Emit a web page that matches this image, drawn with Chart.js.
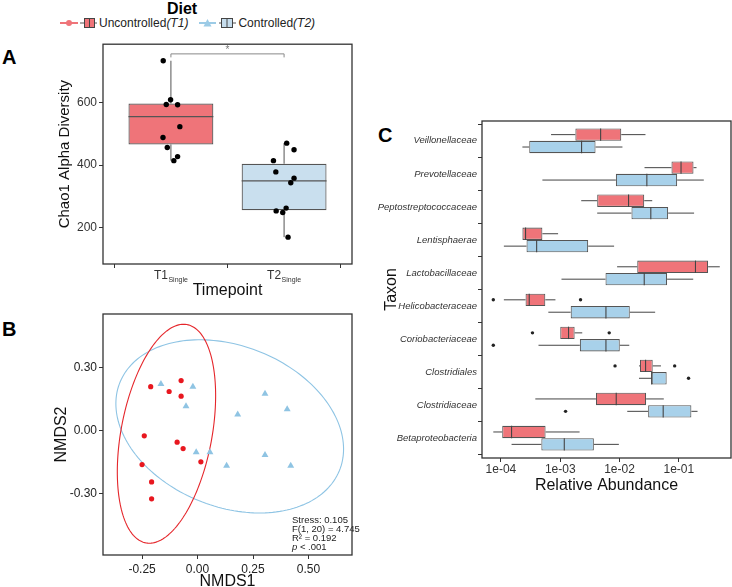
<!DOCTYPE html>
<html>
<head>
<meta charset="utf-8">
<script src="https://cdn.jsdelivr.net/npm/chart.js@4.4.1/dist/chart.umd.min.js"></script>
<style>
  body { margin: 0; background: #fff; font-family: "Liberation Sans", Arial, sans-serif; }
  #wrap { position: relative; width: 732px; height: 587px; overflow: hidden; background: #fff; }
  canvas { position: absolute; }
  .tag { position: absolute; font-size: 20px; font-weight: bold; line-height: 1; color: #000; }
  #dietTitle { position: absolute; left: 142px; width: 80px; top: 0; text-align: center; font-size: 16px; font-weight: bold; line-height: 17px; }
  #legend { position: absolute; left: 58px; top: 16px; height: 14px; display: flex; align-items: center; font-size: 12px; color: #222; white-space: nowrap; }
  #legend svg { display: block; }
</style>
</head>
<body>
<div id="wrap">
  <div id="dietTitle">Diet</div>
  <div id="legend">
    <svg width="40" height="14">
      <line x1="2" y1="7" x2="20" y2="7" stroke="#EF7479" stroke-width="2"/>
      <circle cx="11" cy="7" r="3" fill="#EF7479"/>
      <line x1="22" y1="7" x2="39" y2="7" stroke="#555" stroke-width="1"/>
      <rect x="26.5" y="2.5" width="10" height="9" fill="#EF7479" stroke="#444"/>
      <line x1="31.5" y1="2.5" x2="31.5" y2="11.5" stroke="#444"/>
    </svg>
    <span style="margin-left:1px">Uncontrolled<i>(T1)</i></span>
    <svg width="38" height="14" style="margin-left:11px">
      <line x1="0" y1="7" x2="17" y2="7" stroke="#9CCBE6" stroke-width="2"/>
      <polygon points="4.5,10.5 12.5,10.5 8.5,3" fill="#9CCBE6"/>
      <line x1="20" y1="7" x2="37" y2="7" stroke="#555" stroke-width="1"/>
      <rect x="22.5" y="2.5" width="11" height="9" fill="#C6DDED" stroke="#444"/>
      <line x1="28" y1="2.5" x2="28" y2="11.5" stroke="#444"/>
    </svg>
    <span style="margin-left:1px">Controlled<i>(T2)</i></span>
  </div>

  <div class="tag" style="left:2px; top:47px">A</div>
  <div class="tag" style="left:2px; top:319px">B</div>
  <div class="tag" style="left:378px; top:125px">C</div>

  <canvas id="chartA" width="360" height="270" style="left:0; top:35px"></canvas>
  <canvas id="chartB" width="360" height="287" style="left:0; top:300px"></canvas>
  <canvas id="chartC" width="372" height="405" style="left:360px; top:100px"></canvas>
</div>

<script>
// ---------- Panel A: Chao1 alpha diversity ----------
const timepoints = ['T1', 'T2'];
const chaoMin = [414, 169];
const chaoQ1 = [466, 255];
const chaoMedian = [555, 349];
const chaoQ3 = [597, 404];
const chaoMax = [734, 470];
const chaoT1 = [734, 609, 594, 593, 523, 488, 456, 427, 414];
const jitterT1 = [-0.068, -0.003, -0.041, 0.059, 0.079, -0.070, -0.032, 0.059, 0.026];
const chaoT2 = [470, 449, 414, 378, 358, 343, 262, 253, 248, 169];
const jitterT2 = [0.023, 0.088, -0.094, -0.073, 0.088, 0.059, 0.018, -0.070, -0.012, 0.035];
const chaoTicks = [200, 400, 600];
const sigBracketY = 756;

// ---------- Panel B: NMDS ----------
const uncNmds1 = [-0.211, -0.128, -0.074, -0.074, -0.240, -0.092, -0.065, 0.015, -0.250, -0.207, -0.207];
const uncNmds2 = [0.208, 0.185, 0.237, 0.163, -0.025, -0.055, -0.085, -0.148, -0.161, -0.243, -0.323];
const conNmds1 = [-0.165, -0.021, -0.052, 0.304, 0.404, 0.181, -0.006, 0.056, 0.304, 0.131, 0.420];
const conNmds2 = [0.221, 0.208, 0.115, 0.174, 0.101, 0.076, -0.102, -0.102, -0.116, -0.166, -0.166];
// ellipse: centre x, centre y, semi-major, semi-minor, angle (deg)
const uncEllipse = [-0.14, -0.015, 0.525, 0.205, 80];
const conEllipse = [0.145, 0.02, 0.537, 0.378, -24.6];
const nmds1Ticks = [-0.25, 0, 0.25, 0.5];
const nmds2Ticks = [-0.3, 0, 0.3];
const statLines = ['Stress: 0.105', 'F(1, 20) = 4.745', 'R\u00B2 = 0.192', 'p < .001'];

// ---------- Panel C: relative abundance per taxon ----------
const taxa = ['Veillonellaceae', 'Prevotellaceae', 'Peptostreptococcaceae', 'Lentisphaerae',
  'Lactobacillaceae', 'Helicobacteraceae', 'Coriobacteriaceae', 'Clostridiales',
  'Clostridiaceae', 'Betaproteobacteria'];
const uncMin = [0.0007, 0.0264, 0.00226, 0.00023, 0.0091, 0.000112, 0.0010, 0.0213, 0.00038, 0.0000743];
const uncQ1 = [0.0018, 0.0752, 0.0042, 0.00023, 0.0199, 0.00026, 0.0010, 0.0221, 0.0040, 0.000105];
const uncMed = [0.0048, 0.109, 0.0142, 0.00026, 0.191, 0.00030, 0.00138, 0.0275, 0.0088, 0.000151];
const uncQ3 = [0.0107, 0.177, 0.0261, 0.00050, 0.312, 0.00056, 0.00175, 0.0363, 0.0281, 0.000566];
const uncMax = [0.0274, 0.199, 0.0356, 0.00092, 0.491, 0.00083, 0.00235, 0.050, 0.0558, 0.00212];
const conMin = [0.00023, 0.00050, 0.0042, 0.000112, 0.00105, 0.00063, 0.00043, 0.0213, 0.0135, 0.000151];
const conQ1 = [0.00030, 0.00867, 0.0159, 0.00027, 0.0058, 0.0015, 0.00214, 0.0348, 0.0304, 0.00048];
const conMed = [0.00229, 0.0289, 0.0337, 0.00040, 0.0261, 0.0059, 0.0059, 0.0348, 0.0545, 0.00117];
const conQ3 = [0.00394, 0.0938, 0.0661, 0.00296, 0.0635, 0.0149, 0.0101, 0.0624, 0.163, 0.00369];
const conMax = [0.0112, 0.264, 0.181, 0.0081, 0.175, 0.0399, 0.0146, 0.0624, 0.207, 0.00975];
// outliers: [taxon index, value]
const uncOutliers = [[5, 0.0000743], [5, 0.0022], [6, 0.00034], [6, 0.0067], [7, 0.0084], [7, 0.0851]];
const conOutliers = [[6, 0.0000743], [7, 0.146], [8, 0.00123]];
const abundanceTicks = [1e-4, 1e-3, 1e-2, 1e-1];
const abundanceTickLabels = ['1e-04', '1e-03', '1e-02', '1e-01'];

const RED = '#EF7479';
const BLUE_A = '#C9DFEE';
const BLUE_C = '#A8D1EA';
const FONT = '"Liberation Sans", Arial, sans-serif';

function seg(ctx, x1, y1, x2, y2) {
  ctx.beginPath();
  ctx.moveTo(x1, y1);
  ctx.lineTo(x2, y2);
  ctx.stroke();
}

// panel border like ggplot theme
const framePlugin = {
  id: 'frame',
  afterDraw(chart) {
    const { ctx, chartArea: a } = chart;
    ctx.save();
    ctx.strokeStyle = '#333';
    ctx.lineWidth = 1.3;
    ctx.strokeRect(a.left, a.top, a.right - a.left, a.bottom - a.top);
    ctx.restore();
  }
};

function axisStyle(extra) {
  return Object.assign({
    border: { display: false },
    grid: { drawOnChartArea: false, drawTicks: true, tickLength: 4, color: '#333', lineWidth: 1 },
  }, extra);
}

Chart.defaults.font.family = FONT;
Chart.defaults.animation = false;

// ---------- chart A ----------
const boxPartsA = {
  id: 'boxPartsA',
  beforeDatasetsDraw(chart) {
    const { ctx, scales: { x, y } } = chart;
    ctx.save();
    ctx.strokeStyle = '#555';
    ctx.lineWidth = 1;
    timepoints.forEach((t, i) => {
      const px = x.getPixelForValue(i + 1);
      seg(ctx, px, y.getPixelForValue(chaoMin[i]), px, y.getPixelForValue(chaoQ1[i]));
      seg(ctx, px, y.getPixelForValue(chaoQ3[i]), px, y.getPixelForValue(chaoMax[i]));
    });
    ctx.restore();
  },
  afterDatasetDraw(chart, args) {
    if (args.index !== 0) return;
    const { ctx, scales: { y } } = chart;
    ctx.save();
    ctx.strokeStyle = '#555';
    ctx.lineWidth = 1.2;
    args.meta.data.forEach((bar, i) => {
      const py = y.getPixelForValue(chaoMedian[i]);
      seg(ctx, bar.x - bar.width / 2, py, bar.x + bar.width / 2, py);
    });
    ctx.restore();
  },
  afterDraw(chart) {
    const { ctx, scales: { x, y } } = chart;
    ctx.save();
    // significance bracket
    const y0 = y.getPixelForValue(sigBracketY);
    const x1 = x.getPixelForValue(1), x2 = x.getPixelForValue(2);
    ctx.strokeStyle = '#888';
    ctx.lineWidth = 1;
    ctx.beginPath();
    ctx.moveTo(x1, y0 + 3.5);
    ctx.lineTo(x1, y0);
    ctx.lineTo(x2, y0);
    ctx.lineTo(x2, y0 + 3.5);
    ctx.stroke();
    ctx.fillStyle = '#777';
    ctx.font = '10px ' + FONT;
    ctx.textAlign = 'center';
    ctx.fillText('*', (x1 + x2) / 2, y0 - 0.5);
    // "Single" subscripts on tick labels
    ctx.font = '12px ' + FONT;
    const labelCenter = x.top + 4 + 7.2;
    x.ticks.forEach(t => {
      const label = timepoints[t.value - 1];
      const w = ctx.measureText(label).width;
      const left = x.getPixelForValue(t.value) - 10 + w / 2 + 0.5;
      ctx.save();
      ctx.font = '7px ' + FONT;
      ctx.fillStyle = '#333';
      ctx.textAlign = 'left';
      ctx.textBaseline = 'alphabetic';
      ctx.fillText('Single', left, labelCenter + 7);
      ctx.restore();
    });
    ctx.restore();
  }
};

new Chart(document.getElementById('chartA'), {
  type: 'bar',
  data: {
    datasets: [
      {
        type: 'bar',
        data: timepoints.map((t, i) => ({ x: i + 1, y: [chaoQ1[i], chaoQ3[i]] })),
        backgroundColor: [RED, BLUE_A],
        borderColor: '#555',
        borderWidth: 1.2,
        borderSkipped: false,
        barPercentage: 0.75,
        categoryPercentage: 1,
        order: 2
      },
      {
        type: 'scatter',
        data: chaoT1.map((v, i) => ({ x: 1 + jitterT1[i], y: v }))
          .concat(chaoT2.map((v, i) => ({ x: 2 + jitterT2[i], y: v }))),
        backgroundColor: '#000',
        borderWidth: 0,
        pointRadius: 2.7,
        order: 1
      }
    ]
  },
  options: {
    responsive: false,
    animation: false,
    layout: { padding: { top: 8, right: 8, left: 0, bottom: 0 } },
    plugins: { legend: { display: false }, tooltip: { enabled: false } },
    scales: {
      x: axisStyle({
        type: 'linear', min: 0.4, max: 2.6, offset: false,
        afterBuildTicks: s => { s.ticks = timepoints.map((t, i) => ({ value: i + 1 })); },
        afterFit: s => { s.height = 41; },
        ticks: { callback: v => timepoints[v - 1], color: '#333', font: { size: 12 }, padding: 0, labelOffset: -10, maxRotation: 0 },
        title: { display: true, text: 'Timepoint', color: '#111', font: { size: 16 }, padding: { top: 0, bottom: 5 } }
      }),
      y: axisStyle({
        type: 'linear', min: 83, max: 787, beginAtZero: false,
        afterBuildTicks: s => { s.ticks = chaoTicks.map(v => ({ value: v })); },
        afterFit: s => { s.width = 103; },
        ticks: { color: '#333', font: { size: 12 }, padding: 2 },
        title: { display: true, text: 'Chao1 Alpha Diversity', color: '#111', font: { size: 15 }, padding: { top: 56, bottom: 0 } }
      })
    }
  },
  plugins: [boxPartsA, framePlugin]
});

// ---------- chart B ----------
function traceEllipse(chart, e, color) {
  const { ctx, scales: { x, y } } = chart;
  const [cx, cy, a, b, deg] = e;
  const t = deg * Math.PI / 180;
  ctx.save();
  ctx.strokeStyle = color;
  ctx.lineWidth = 1.1;
  ctx.beginPath();
  for (let k = 0; k <= 180; k++) {
    const u = k / 180 * 2 * Math.PI;
    const dx = a * Math.cos(u) * Math.cos(t) - b * Math.sin(u) * Math.sin(t);
    const dy = a * Math.cos(u) * Math.sin(t) + b * Math.sin(u) * Math.cos(t);
    const px = x.getPixelForValue(cx + dx), py = y.getPixelForValue(cy + dy);
    if (k === 0) ctx.moveTo(px, py); else ctx.lineTo(px, py);
  }
  ctx.stroke();
  ctx.restore();
}

const nmdsExtras = {
  id: 'nmdsExtras',
  beforeDatasetsDraw(chart) {
    traceEllipse(chart, conEllipse, '#8EC4E4');
    traceEllipse(chart, uncEllipse, '#E5262B');
  },
  afterDraw(chart) {
    const { ctx, chartArea: a } = chart;
    ctx.save();
    ctx.fillStyle = '#222';
    ctx.textAlign = 'left';
    ctx.textBaseline = 'middle';
    const left = a.right - 60;
    statLines.forEach((line, i) => {
      const yy = a.bottom - 35 + i * 9;
      if (line.startsWith('p ')) {
        ctx.font = 'italic 9.5px ' + FONT;
        ctx.fillText('p', left, yy);
        const w = ctx.measureText('p').width;
        ctx.font = '9.5px ' + FONT;
        ctx.fillText(line.slice(1), left + w, yy);
      } else {
        ctx.font = '9.5px ' + FONT;
        ctx.fillText(line, left, yy);
      }
    });
    ctx.restore();
  }
};

new Chart(document.getElementById('chartB'), {
  type: 'scatter',
  data: {
    datasets: [
      {
        label: 'Uncontrolled',
        data: uncNmds1.map((v, i) => ({ x: v, y: uncNmds2[i] })),
        backgroundColor: '#E8171F',
        borderWidth: 0,
        pointRadius: 2.6,
        pointStyle: 'circle'
      },
      {
        label: 'Controlled',
        data: conNmds1.map((v, i) => ({ x: v, y: conNmds2[i] })),
        backgroundColor: '#8FC4E3',
        borderWidth: 0,
        pointRadius: 4,
        pointStyle: 'triangle'
      }
    ]
  },
  options: {
    responsive: false,
    animation: false,
    layout: { padding: { top: 14, right: 8, left: 0, bottom: 0 } },
    plugins: { legend: { display: false }, tooltip: { enabled: false } },
    scales: {
      x: axisStyle({
        type: 'linear', min: -0.426, max: 0.696,
        afterBuildTicks: s => { s.ticks = nmds1Ticks.map(v => ({ value: v })); },
        afterFit: s => { s.height = 32; },
        ticks: { callback: v => v.toFixed(2), color: '#222', font: { size: 12 }, padding: 3, maxRotation: 0 },
        title: { display: true, text: 'NMDS1', color: '#111', font: { size: 16 }, padding: { top: 0, bottom: -4 } }
      }),
      y: axisStyle({
        type: 'linear', min: -0.589, max: 0.552,
        afterBuildTicks: s => { s.ticks = nmds2Ticks.map(v => ({ value: v })); },
        afterFit: s => { s.width = 103; },
        ticks: { callback: v => v.toFixed(2), color: '#222', font: { size: 12 }, padding: 2 },
        title: { display: true, text: 'NMDS2', color: '#111', font: { size: 16 }, padding: { top: 52, bottom: 0 } }
      })
    }
  },
  plugins: [nmdsExtras, framePlugin]
});

// ---------- chart C ----------
const groupsC = [
  { min: uncMin, med: uncMed, max: uncMax, out: uncOutliers },
  { min: conMin, med: conMed, max: conMax, out: conOutliers }
];

const boxPartsC = {
  id: 'boxPartsC',
  beforeDatasetsDraw(chart) {
    const { ctx, scales: { x } } = chart;
    ctx.save();
    ctx.strokeStyle = '#444';
    ctx.lineWidth = 1;
    groupsC.forEach((g, d) => {
      chart.getDatasetMeta(d).data.forEach((bar, i) => {
        seg(ctx, x.getPixelForValue(g.min[i]), bar.y, bar.base, bar.y);
        seg(ctx, bar.x, bar.y, x.getPixelForValue(g.max[i]), bar.y);
      });
    });
    ctx.restore();
  },
  afterDatasetsDraw(chart) {
    const { ctx, scales: { x } } = chart;
    ctx.save();
    ctx.strokeStyle = '#444';
    ctx.fillStyle = '#222';
    ctx.lineWidth = 1.1;
    groupsC.forEach((g, d) => {
      const bars = chart.getDatasetMeta(d).data;
      bars.forEach((bar, i) => {
        const mx = x.getPixelForValue(g.med[i]);
        seg(ctx, mx, bar.y - bar.height / 2, mx, bar.y + bar.height / 2);
      });
      g.out.forEach(([k, v]) => {
        ctx.beginPath();
        ctx.arc(x.getPixelForValue(v), bars[k].y, 1.7, 0, Math.PI * 2);
        ctx.fill();
      });
    });
    ctx.restore();
  }
};

new Chart(document.getElementById('chartC'), {
  type: 'bar',
  data: {
    datasets: [
      {
        label: 'Uncontrolled',
        data: taxa.map((t, i) => ({ y: taxa.length - i, x: [uncQ1[i], uncQ3[i]] })),
        backgroundColor: RED
      },
      {
        label: 'Controlled',
        data: taxa.map((t, i) => ({ y: taxa.length - i, x: [conQ1[i], conQ3[i]] })),
        backgroundColor: BLUE_C
      }
    ]
  },
  options: {
    indexAxis: 'y',
    responsive: false,
    animation: false,
    datasets: {
      bar: { borderColor: '#555', borderWidth: 1.1, borderSkipped: false, barPercentage: 1, categoryPercentage: 0.75 }
    },
    layout: { padding: { top: 21, right: 1, left: 0, bottom: 0 } },
    plugins: { legend: { display: false }, tooltip: { enabled: false } },
    scales: {
      x: axisStyle({
        type: 'logarithmic', min: 4.79e-5, max: 0.759,
        afterBuildTicks: s => { s.ticks = abundanceTicks.map(v => ({ value: v })); },
        afterFit: s => { s.height = 47; },
        ticks: { callback: v => abundanceTickLabels[abundanceTicks.indexOf(v)], color: '#333', font: { size: 12 }, padding: 0, maxRotation: 0 },
        title: { display: true, text: 'Relative Abundance', color: '#111', font: { size: 16 }, padding: { top: 0, bottom: 10 } }
      }),
      y: axisStyle({
        type: 'linear', min: 0.4, max: taxa.length + 0.6, offset: false, beginAtZero: false,
        afterBuildTicks: s => { s.ticks = taxa.map((t, i) => ({ value: taxa.length - i })); },
        afterFit: s => { s.width = 122; },
        ticks: { callback: v => taxa[taxa.length - v], color: '#333', font: { size: 9.5, style: 'italic' }, padding: 1 },
        title: { display: true, text: 'Taxon', color: '#111', font: { size: 16 }, padding: { top: 22, bottom: 0 } }
      })
    }
  },
  plugins: [boxPartsC, framePlugin]
});
</script>
</body>
</html>
